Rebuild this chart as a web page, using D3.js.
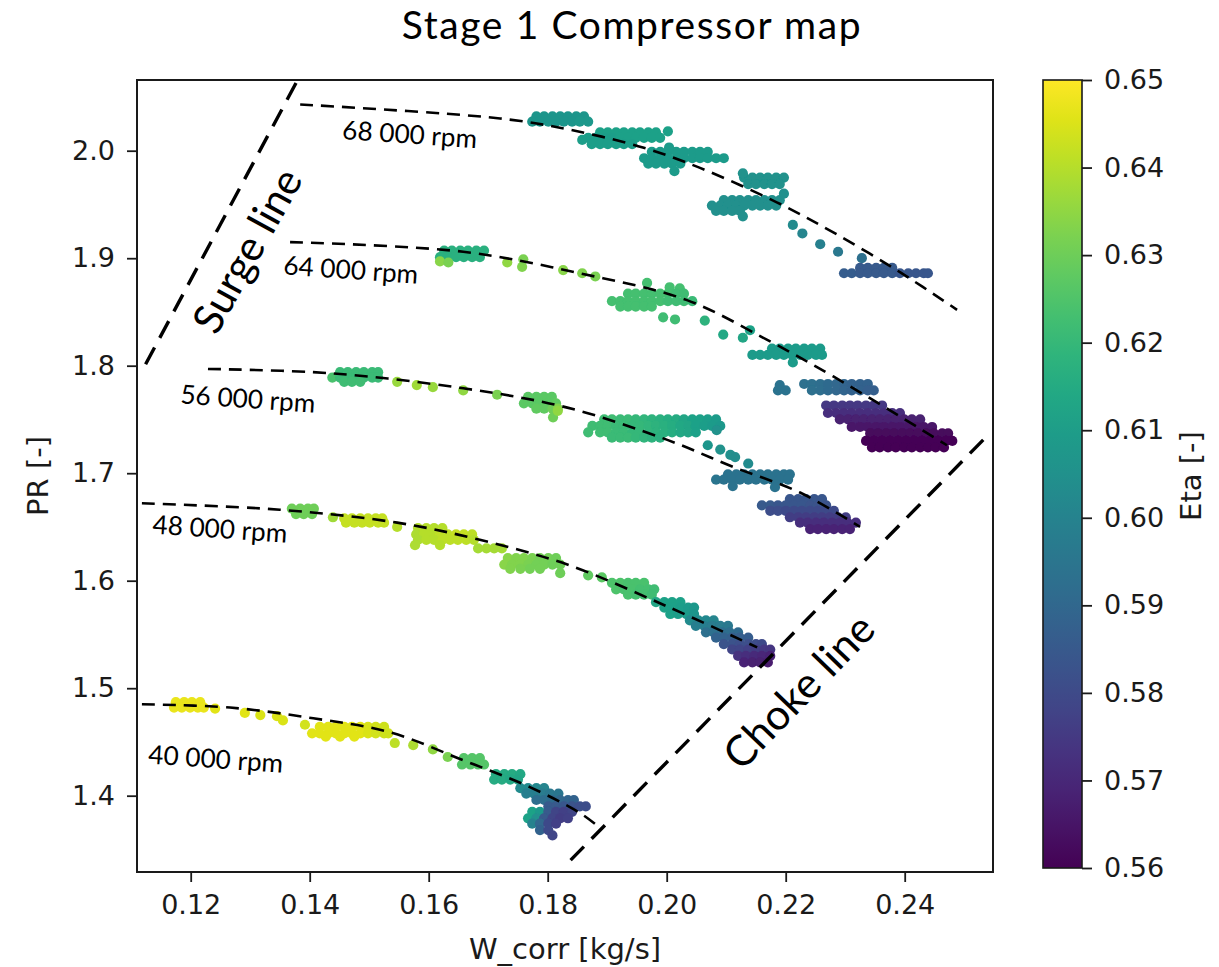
<!DOCTYPE html>
<html><head><meta charset="utf-8">
<script src="https://cdn.jsdelivr.net/npm/d3@7"></script>
<style>body{margin:0;background:#fff} svg{display:block}</style>
</head><body>
<svg id="chart" width="1219" height="967"></svg>
<script>
// ---------- data ----------
const title = "Stage 1 Compressor map";
const xLabel = "W_corr [kg/s]";
const yLabel = "PR [-]";
const cLabel = "Eta [-]";
const xTicks = [0.12,0.14,0.16,0.18,0.20,0.22,0.24];
const yTicks = [1.4,1.5,1.6,1.7,1.8,1.9,2.0];
const etaTicks = [0.56,0.57,0.58,0.59,0.60,0.61,0.62,0.63,0.64,0.65];

// [W_corr, PR, Eta]
const speed68 = [
[0.1781,2.032,.607],[0.1794,2.032,.607],[0.1808,2.032,.607],[0.1821,2.032,.607],[0.1834,2.032,.607],[0.1848,2.032,.607],[0.1861,2.032,.607],
[0.1774,2.027,.607],[0.1787,2.027,.607],[0.1801,2.027,.607],[0.1814,2.027,.607],[0.1827,2.027,.607],[0.1841,2.027,.607],[0.1854,2.027,.608],[0.1868,2.027,.608],
[0.1888,2.017,.611],[0.1901,2.017,.611],[0.1915,2.017,.611],[0.1928,2.017,.611],[0.1942,2.017,.611],[0.1955,2.017,.611],[0.1969,2.017,.611],[0.1982,2.017,.611],
[0.1868,2.012,.610],[0.1881,2.012,.610],[0.1895,2.012,.610],[0.1908,2.012,.610],[0.1922,2.012,.611],[0.1935,2.012,.611],[0.1948,2.012,.611],[0.1962,2.012,.611],[0.1975,2.012,.611],[0.1989,2.012,.611],
[0.1874,2.006,.610],[0.1888,2.006,.610],[0.1901,2.006,.610],[0.1915,2.006,.610],[0.1928,2.006,.610],[0.1942,2.006,.610],
[0.2002,2.018,.611],[0.1858,2.010,.610],
[0.1975,1.999,.609],[0.1989,1.999,.609],[0.2002,1.999,.609],[0.2016,1.999,.609],[0.2029,1.999,.609],[0.2043,1.999,.609],[0.2056,1.999,.609],[0.2069,1.999,.609],
[0.1962,1.993,.609],[0.1975,1.993,.609],[0.1989,1.993,.609],[0.2002,1.993,.609],[0.2016,1.993,.609],[0.2029,1.993,.609],[0.2043,1.993,.609],[0.2056,1.993,.609],[0.2069,1.993,.609],[0.2083,1.993,.609],[0.2096,1.993,.609],
[0.1969,1.988,.609],[0.1982,1.988,.609],[0.1996,1.988,.609],[0.2009,1.988,.609],[0.2023,1.988,.609],
[0.2004,2.003,.609],[0.2013,1.981,.609],
[0.2130,1.975,.606],[0.2144,1.975,.606],[0.2157,1.975,.606],[0.2170,1.975,.606],[0.2184,1.975,.606],[0.2197,1.975,.606],
[0.2137,1.969,.606],[0.2150,1.969,.606],[0.2164,1.969,.606],[0.2177,1.969,.606],[0.2190,1.969,.606],[0.2128,1.979,.606],
[0.2096,1.954,.605],[0.2110,1.954,.605],[0.2123,1.954,.605],[0.2137,1.954,.605],[0.2150,1.954,.605],[0.2164,1.954,.605],[0.2177,1.954,.605],[0.2190,1.954,.605],
[0.2076,1.949,.605],[0.2090,1.949,.605],[0.2103,1.949,.605],[0.2117,1.949,.605],[0.2130,1.949,.605],[0.2144,1.949,.605],[0.2157,1.949,.605],[0.2170,1.949,.605],[0.2184,1.949,.605],
[0.2083,1.944,.605],[0.2096,1.944,.605],[0.2110,1.944,.605],[0.2123,1.944,.605],[0.2128,1.939,.605],[0.2197,1.960,.605],
[0.2212,1.931,.603],[0.2228,1.923,.601],[0.2258,1.913,.599],[0.2288,1.906,.596],[0.2328,1.900,.593],
[0.2325,1.891,.585],[0.2338,1.891,.585],[0.2352,1.891,.585],[0.2365,1.891,.585],[0.2379,1.891,.585],
[0.2298,1.886,.586],[0.2311,1.886,.586],[0.2325,1.886,.585],[0.2338,1.886,.585],[0.2352,1.886,.585],[0.2365,1.886,.585],[0.2379,1.886,.585],[0.2392,1.886,.584],[0.2406,1.886,.584],[0.2419,1.886,.584],[0.2432,1.886,.584],[0.2439,1.886,.584]
];

const speed64 = [
[0.1626,1.907,.617],[0.1639,1.907,.617],[0.1653,1.907,.617],[0.1666,1.907,.617],[0.1680,1.907,.617],[0.1693,1.907,.617],
[0.1619,1.901,.617],[0.1633,1.901,.617],[0.1646,1.901,.617],[0.1659,1.901,.617],[0.1673,1.901,.617],[0.1686,1.901,.617],
[0.1619,1.897,.634],[0.1633,1.896,.632],
[0.1732,1.896,.635],[0.1757,1.892,.633],[0.1759,1.899,.632],[0.1826,1.889,.634],[0.1858,1.886,.633],[0.1880,1.883,.632],
[0.1967,1.877,.623],[0.2005,1.873,.623],[0.2022,1.872,.623],
[0.1935,1.867,.623],[0.1948,1.867,.623],[0.1962,1.867,.623],[0.1975,1.867,.623],[0.1989,1.867,.623],[0.2002,1.867,.623],[0.2016,1.867,.622],[0.2029,1.867,.622],
[0.1908,1.860,.623],[0.1922,1.860,.623],[0.1935,1.860,.623],[0.1948,1.860,.623],[0.1962,1.860,.623],[0.1975,1.860,.623],[0.1989,1.860,.623],[0.2002,1.860,.622],[0.2016,1.860,.622],[0.2029,1.860,.622],[0.2043,1.860,.621],
[0.1922,1.855,.623],[0.1935,1.855,.623],[0.1948,1.855,.623],[0.1962,1.855,.623],[0.1975,1.855,.623],
[0.1994,1.845,.622],[0.2014,1.843,.622],
[0.2064,1.842,.618],[0.2095,1.829,.614],[0.2128,1.826,.613],[0.2140,1.833,.612],
[0.2177,1.816,.609],[0.2190,1.816,.609],[0.2204,1.816,.609],[0.2217,1.816,.609],[0.2231,1.816,.609],[0.2244,1.816,.609],[0.2258,1.816,.609],
[0.2144,1.810,.609],[0.2157,1.810,.609],[0.2170,1.810,.609],[0.2184,1.810,.609],[0.2197,1.810,.609],[0.2211,1.810,.609],[0.2224,1.810,.609],[0.2237,1.810,.609],[0.2251,1.810,.609],[0.2261,1.810,.609],
[0.2212,1.803,.609],
[0.2190,1.782,.594],
[0.2231,1.783,.593],[0.2244,1.783,.593],[0.2258,1.783,.592],[0.2271,1.783,.591],[0.2285,1.783,.590],[0.2298,1.783,.589],[0.2311,1.783,.588],[0.2325,1.783,.588],[0.2338,1.783,.588],
[0.2187,1.777,.594],[0.2200,1.777,.594],[0.2244,1.777,.593],[0.2258,1.777,.592],[0.2271,1.777,.591],[0.2285,1.777,.590],[0.2298,1.777,.589],[0.2311,1.777,.588],[0.2325,1.777,.588],[0.2338,1.777,.587],[0.2348,1.777,.587],
[0.2268,1.763,.575],[0.2281,1.763,.575],[0.2295,1.763,.575],[0.2308,1.763,.575],[0.2321,1.763,.575],[0.2335,1.763,.575],[0.2348,1.763,.575],[0.2362,1.763,.575],
[0.2271,1.756,.572],[0.2285,1.756,.572],[0.2298,1.756,.572],[0.2311,1.756,.572],[0.2325,1.756,.572],[0.2338,1.756,.572],[0.2352,1.756,.572],[0.2365,1.756,.572],[0.2379,1.756,.572],[0.2392,1.756,.572],
[0.2291,1.750,.568],[0.2305,1.750,.568],[0.2318,1.750,.568],[0.2331,1.750,.568],[0.2345,1.750,.568],[0.2358,1.750,.568],[0.2372,1.750,.568],[0.2385,1.750,.568],[0.2399,1.750,.568],[0.2412,1.750,.568],[0.2426,1.750,.568],
[0.2311,1.743,.565],[0.2325,1.743,.565],[0.2338,1.743,.565],[0.2352,1.743,.565],[0.2365,1.743,.565],[0.2379,1.743,.565],[0.2392,1.743,.565],[0.2406,1.743,.565],[0.2419,1.743,.565],[0.2432,1.743,.565],[0.2446,1.743,.565],
[0.2342,1.737,.562],[0.2355,1.737,.562],[0.2369,1.737,.562],[0.2382,1.737,.562],[0.2396,1.737,.562],[0.2409,1.737,.562],[0.2422,1.737,.562],[0.2436,1.737,.562],[0.2449,1.737,.562],[0.2463,1.737,.562],[0.2473,1.737,.562],
[0.2335,1.730,.561],[0.2348,1.730,.561],[0.2362,1.730,.561],[0.2375,1.730,.561],[0.2389,1.730,.561],[0.2402,1.730,.561],[0.2416,1.730,.561],[0.2429,1.730,.561],[0.2442,1.730,.561],[0.2456,1.730,.561],[0.2469,1.730,.561],[0.2480,1.730,.561],
[0.2345,1.724,.560],[0.2358,1.724,.560],[0.2372,1.724,.560],[0.2385,1.724,.560],[0.2399,1.724,.560],[0.2412,1.724,.560],[0.2426,1.724,.560],[0.2439,1.724,.560],[0.2452,1.724,.560],[0.2466,1.724,.560]
];

const speed56 = [
[0.1451,1.794,.621],[0.1464,1.794,.621],[0.1478,1.794,.621],[0.1491,1.794,.621],[0.1505,1.794,.621],[0.1515,1.794,.621],
[0.1438,1.789,.624],[0.1451,1.789,.621],[0.1464,1.789,.621],[0.1478,1.789,.621],[0.1491,1.789,.621],[0.1505,1.789,.621],[0.1515,1.789,.621],
[0.1458,1.785,.622],[0.1471,1.785,.622],[0.1485,1.785,.622],
[0.1547,1.785,.636],[0.1580,1.782,.637],[0.1607,1.780,.636],[0.1658,1.777,.635],[0.1715,1.773,.632],
[0.1767,1.771,.627],[0.1781,1.771,.627],[0.1794,1.771,.627],[0.1807,1.771,.627],
[0.1760,1.765,.627],[0.1774,1.765,.627],[0.1787,1.765,.627],[0.1801,1.765,.627],[0.1814,1.765,.628],
[0.1781,1.760,.628],[0.1794,1.760,.628],[0.1808,1.760,.630],[0.1817,1.760,.633],
[0.1809,1.752,.630],[0.1817,1.758,.635],
[0.1895,1.750,.622],[0.1908,1.750,.622],[0.1922,1.750,.621],[0.1935,1.750,.621],[0.1948,1.750,.620],[0.1962,1.750,.619],[0.1975,1.750,.618],[0.1989,1.750,.617],[0.2002,1.750,.616],[0.2016,1.750,.615],[0.2029,1.750,.613],[0.2043,1.750,.612],[0.2056,1.750,.611],[0.2069,1.750,.610],[0.2083,1.750,.609],
[0.1875,1.744,.622],[0.1888,1.744,.622],[0.1901,1.744,.622],[0.1915,1.744,.621],[0.1928,1.744,.621],[0.1942,1.744,.620],[0.1955,1.744,.620],[0.1969,1.744,.619],[0.1982,1.744,.618],[0.1996,1.744,.617],[0.2009,1.744,.616],[0.2023,1.744,.614],[0.2036,1.744,.613],[0.2049,1.744,.611],[0.2063,1.744,.610],[0.2076,1.744,.609],[0.2090,1.744,.608],
[0.1888,1.738,.622],[0.1901,1.738,.622],[0.1915,1.738,.621],[0.1928,1.738,.621],[0.1942,1.738,.620],[0.1955,1.738,.620],[0.1969,1.738,.619],[0.1982,1.738,.618],[0.1996,1.738,.617],[0.2009,1.738,.616],[0.2023,1.738,.614],[0.2036,1.738,.613],[0.2049,1.738,.611],
[0.1908,1.733,.621],[0.1922,1.733,.621],[0.1935,1.733,.621],[0.1948,1.733,.620],[0.1962,1.733,.619],[0.1975,1.733,.618],[0.1989,1.733,.617],
[0.1868,1.738,.622],
[0.2069,1.726,.607],[0.2084,1.740,.606],[0.2090,1.722,.606],[0.2107,1.717,.605],[0.2115,1.715,.604],[0.2137,1.709,.603],
[0.2103,1.699,.594],[0.2117,1.699,.594],[0.2130,1.699,.594],[0.2144,1.699,.594],[0.2157,1.699,.594],[0.2170,1.699,.594],[0.2184,1.699,.594],[0.2197,1.699,.594],[0.2207,1.699,.594],
[0.2083,1.694,.595],[0.2096,1.694,.594],[0.2110,1.694,.594],[0.2123,1.694,.594],[0.2137,1.694,.594],[0.2150,1.694,.594],[0.2164,1.694,.594],[0.2177,1.694,.594],[0.2190,1.694,.594],[0.2204,1.694,.594],
[0.2111,1.688,.594],[0.2182,1.687,.594],
[0.2207,1.676,.584],[0.2221,1.676,.584],[0.2234,1.676,.584],[0.2248,1.676,.584],[0.2261,1.676,.584],
[0.2160,1.670,.585],[0.2174,1.670,.585],[0.2187,1.670,.584],[0.2200,1.670,.584],[0.2214,1.670,.584],[0.2227,1.670,.584],[0.2241,1.670,.583],[0.2254,1.670,.583],[0.2268,1.670,.583],
[0.2174,1.665,.581],[0.2187,1.665,.581],[0.2200,1.665,.580],[0.2214,1.665,.580],[0.2227,1.665,.580],[0.2241,1.665,.580],[0.2254,1.665,.580],[0.2268,1.665,.580],[0.2281,1.665,.580],
[0.2207,1.659,.576],[0.2221,1.659,.576],[0.2234,1.659,.576],[0.2248,1.659,.576],[0.2261,1.659,.576],[0.2274,1.659,.576],[0.2288,1.659,.576],[0.2301,1.659,.576],
[0.2224,1.654,.572],[0.2237,1.654,.572],[0.2251,1.654,.572],[0.2264,1.654,.572],[0.2278,1.654,.572],[0.2291,1.654,.572],[0.2304,1.654,.572],[0.2318,1.654,.572],
[0.2241,1.648,.569],[0.2254,1.648,.569],[0.2268,1.648,.569],[0.2281,1.648,.569],[0.2295,1.648,.569],[0.2308,1.648,.569]
];

const speed48 = [
[0.1370,1.667,.630],[0.1384,1.667,.630],[0.1397,1.667,.630],[0.1407,1.667,.630],
[0.1377,1.662,.630],[0.1390,1.662,.630],[0.1404,1.662,.630],
[0.1439,1.659,.637],
[0.1458,1.658,.642],[0.1471,1.658,.642],[0.1485,1.658,.642],[0.1498,1.658,.642],[0.1511,1.658,.642],[0.1522,1.658,.642],
[0.1461,1.654,.642],[0.1475,1.654,.642],[0.1488,1.654,.642],[0.1501,1.654,.642],[0.1515,1.654,.642],[0.1525,1.654,.642],
[0.1547,1.650,.640],
[0.1582,1.649,.640],[0.1596,1.649,.640],[0.1609,1.649,.640],[0.1623,1.649,.640],
[0.1579,1.643,.639],[0.1592,1.643,.640],[0.1606,1.643,.640],[0.1619,1.643,.641],[0.1632,1.643,.641],[0.1646,1.643,.642],[0.1659,1.643,.642],[0.1673,1.643,.641],
[0.1582,1.638,.639],[0.1596,1.638,.640],[0.1609,1.638,.640],[0.1623,1.638,.641],[0.1636,1.638,.641],[0.1649,1.638,.641],[0.1663,1.638,.641],[0.1676,1.638,.640],
[0.1577,1.633,.639],[0.1619,1.633,.640],
[0.1683,1.630,.638],[0.1697,1.630,.638],[0.1710,1.630,.638],[0.1723,1.630,.638],
[0.1733,1.621,.634],[0.1747,1.621,.633],[0.1760,1.621,.633],[0.1774,1.621,.632],[0.1787,1.621,.631],[0.1801,1.621,.631],[0.1814,1.621,.630],
[0.1727,1.615,.634],[0.1740,1.615,.633],[0.1754,1.615,.633],[0.1767,1.615,.632],[0.1781,1.615,.631],[0.1794,1.615,.631],[0.1808,1.615,.630],[0.1821,1.615,.630],
[0.1737,1.611,.633],[0.1754,1.611,.632],[0.1770,1.611,.631],[0.1787,1.611,.631],[0.1821,1.607,.630],
[0.1868,1.605,.628],[0.1891,1.603,.627],
[0.1908,1.598,.625],[0.1922,1.598,.625],[0.1935,1.598,.624],[0.1948,1.598,.624],[0.1962,1.598,.624],
[0.1915,1.592,.625],[0.1928,1.592,.624],[0.1942,1.592,.624],[0.1955,1.592,.623],[0.1969,1.592,.623],[0.1979,1.592,.622],
[0.1935,1.587,.624],[0.1948,1.587,.623],[0.1962,1.587,.623],[0.1975,1.587,.622],
[0.1982,1.580,.613],[0.1996,1.580,.612],[0.2009,1.580,.612],[0.2023,1.580,.611],
[0.1996,1.575,.612],[0.2009,1.575,.611],[0.2023,1.575,.610],[0.2036,1.575,.609],[0.2046,1.575,.608],
[0.2006,1.569,.611],[0.2019,1.569,.610],[0.2033,1.569,.609],[0.2046,1.569,.607],
[0.2039,1.563,.603],[0.2053,1.563,.603],[0.2066,1.563,.602],[0.2079,1.563,.601],
[0.2049,1.558,.598],[0.2063,1.558,.598],[0.2076,1.558,.597],[0.2090,1.558,.597],[0.2103,1.558,.596],
[0.2066,1.552,.593],[0.2079,1.552,.593],[0.2093,1.552,.592],[0.2106,1.552,.592],[0.2120,1.552,.591],
[0.2083,1.547,.588],[0.2096,1.547,.588],[0.2110,1.547,.587],[0.2123,1.547,.587],[0.2137,1.547,.586],
[0.2096,1.541,.583],[0.2110,1.541,.583],[0.2123,1.541,.582],[0.2137,1.541,.582],[0.2150,1.541,.581],[0.2160,1.541,.580],
[0.2110,1.536,.578],[0.2123,1.536,.578],[0.2137,1.536,.577],[0.2150,1.536,.576],[0.2164,1.536,.575],[0.2174,1.536,.574],
[0.2120,1.530,.573],[0.2133,1.530,.572],[0.2147,1.530,.571],[0.2160,1.530,.570],[0.2174,1.530,.569],
[0.2130,1.524,.569],[0.2144,1.524,.568],[0.2157,1.524,.568],[0.2170,1.524,.567]
];

const speed40 = [
[0.1175,1.487,.647],[0.1189,1.487,.647],[0.1202,1.487,.647],[0.1216,1.487,.647],
[0.1172,1.482,.647],[0.1185,1.482,.647],[0.1199,1.482,.647],[0.1212,1.482,.647],[0.1222,1.482,.647],
[0.1241,1.481,.646],[0.1291,1.477,.646],[0.1317,1.475,.645],[0.1345,1.474,.645],[0.1355,1.470,.645],[0.1392,1.466,.644],
[0.1417,1.464,.646],[0.1431,1.464,.646],[0.1444,1.464,.646],[0.1458,1.464,.646],[0.1471,1.464,.646],[0.1485,1.464,.646],[0.1498,1.464,.645],[0.1511,1.464,.644],[0.1525,1.464,.643],
[0.1404,1.458,.646],[0.1417,1.458,.646],[0.1431,1.458,.646],[0.1444,1.458,.646],[0.1458,1.458,.646],[0.1471,1.458,.646],[0.1485,1.458,.646],[0.1498,1.458,.645],[0.1511,1.458,.644],[0.1525,1.458,.643],[0.1532,1.458,.643],
[0.1427,1.455,.646],[0.1451,1.455,.646],[0.1475,1.455,.646],
[0.1543,1.449,.641],[0.1574,1.447,.639],[0.1607,1.443,.635],[0.1632,1.436,.632],
[0.1659,1.435,.626],[0.1673,1.435,.626],[0.1686,1.435,.626],
[0.1656,1.429,.626],[0.1670,1.429,.626],[0.1683,1.429,.626],[0.1693,1.429,.626],
[0.1713,1.420,.615],[0.1727,1.420,.615],[0.1740,1.420,.615],[0.1754,1.420,.614],
[0.1710,1.415,.615],[0.1723,1.415,.615],[0.1737,1.415,.614],[0.1750,1.415,.613],
[0.1754,1.407,.603],[0.1767,1.407,.603],[0.1781,1.407,.602],[0.1794,1.407,.601],
[0.1764,1.402,.598],[0.1777,1.402,.598],[0.1791,1.402,.597],[0.1804,1.402,.596],[0.1818,1.402,.595],
[0.1781,1.396,.592],[0.1794,1.396,.592],[0.1808,1.396,.591],[0.1821,1.396,.590],[0.1834,1.396,.589],[0.1844,1.396,.588],
[0.1801,1.390,.585],[0.1814,1.390,.585],[0.1827,1.390,.584],[0.1841,1.390,.583],[0.1854,1.390,.582],[0.1864,1.390,.581],
[0.1774,1.385,.612],[0.1787,1.385,.608],[0.1801,1.385,.585],[0.1814,1.385,.578],[0.1827,1.385,.577],[0.1841,1.385,.578],
[0.1767,1.379,.612],[0.1781,1.379,.605],[0.1794,1.379,.585],[0.1808,1.379,.578],[0.1821,1.379,.576],[0.1834,1.379,.577],
[0.1774,1.374,.600],[0.1787,1.374,.590],[0.1801,1.374,.580],[0.1814,1.374,.577],
[0.1787,1.368,.588],[0.1801,1.368,.580],[0.1808,1.363,.578]
];

// speed-line guides [W_corr, PR]
const line68 = [[0.1384,2.043],[0.1720,2.030],[0.1833,2.020],[0.1960,2.003],[0.2056,1.984],[0.2185,1.952],[0.2280,1.924],[0.2392,1.887],[0.2488,1.852]];
const line64 = [[0.1367,1.915],[0.1658,1.906],[0.1854,1.886],[0.2034,1.861],[0.2169,1.824],[0.2280,1.790],[0.2471,1.726]];
const line56 = [[0.1229,1.797],[0.1434,1.793],[0.1658,1.779],[0.1833,1.761],[0.2001,1.731],[0.2111,1.706],[0.2224,1.682],[0.2325,1.650]];
const line48 = [[0.1118,1.672],[0.1350,1.666],[0.1547,1.654],[0.1686,1.638],[0.1833,1.615],[0.2001,1.576],[0.2152,1.538]];
const line40 = [[0.1118,1.485],[0.1266,1.482],[0.1406,1.472],[0.1535,1.459],[0.1658,1.433],[0.1770,1.408],[0.1854,1.384],[0.1888,1.370]];
const surgeLine = [[0.1377,2.063],[0.1121,1.798]];
const chokeLine = [[0.2532,1.731],[0.1826,1.333]];

const rpmLabels = [
  {text:"68 000 rpm", w:0.1454, pr:2.011},
  {text:"64 000 rpm", w:0.1355, pr:1.885},
  {text:"56 000 rpm", w:0.1182, pr:1.765},
  {text:"48 000 rpm", w:0.1135, pr:1.644},
  {text:"40 000 rpm", w:0.1128, pr:1.430}
];
const lineLabels = [
  {text:"Surge line", w:0.1295, pr:1.907, angle:-61, width:180},
  {text:"Choke line", w:0.2222, pr:1.497, angle:-46, width:196}
];

// ---------- layout ----------
const svg = d3.select("#chart");
const L = 137, R = 993, T = 80, B = 872;
const x = d3.scaleLinear().domain([0.110975, 0.25484]).range([L, R]);
const y = d3.scaleLinear().domain([1.32902, 2.06577]).range([B, T]);
const cScale = d3.scaleLinear().domain([0.56, 0.65]).range([868, 80]);
const color = d3.scaleSequential(d3.interpolateViridis).domain([0.56, 0.65]);
const axisFont = "'DejaVu Sans', sans-serif";
const annFont = "Lato, 'Open Sans', sans-serif";
const ink = "#1a1a1a";

function fit(sel, target) {
  const len = sel.node().getComputedTextLength();
  const fs = parseFloat(sel.attr("font-size"));
  sel.attr("font-size", fs * target / len);
}

svg.append("rect").attr("width", 1219).attr("height", 967).attr("fill", "#fff");

// title: size chosen so its box stays inside the page, small spacing to reach the reference width
const tt = svg.append("text").attr("x", 632).attr("y", 39).attr("text-anchor", "middle")
  .attr("font-family", annFont).attr("font-size", 39).attr("fill", "#000").text(title);
{
  const len = tt.node().getComputedTextLength();
  tt.attr("letter-spacing", Math.max(0, Math.min(1.6, (480 - len) / title.length)));
}

// clip + soft edge filter
const defs = svg.append("defs");
defs.append("clipPath").attr("id", "plotclip").append("rect")
  .attr("x", L).attr("y", T).attr("width", R - L).attr("height", B - T);
defs.append("filter").attr("id", "soft").append("feGaussianBlur").attr("stdDeviation", 0.7);

// scatter
const allPts = [].concat(speed40, speed48, speed56, speed64, speed68);
svg.append("g").attr("clip-path", "url(#plotclip)").append("g").attr("filter", "url(#soft)")
  .selectAll("circle").data(allPts).join("circle")
  .attr("cx", d => x(d[0])).attr("cy", d => y(d[1])).attr("r", 5.1)
  .attr("fill", d => color(d[2]));

// speed lines
const lineGen = d3.line().x(d => x(d[0])).y(d => y(d[1])).curve(d3.curveCatmullRom.alpha(0.5));
const lg = svg.append("g").attr("fill", "none").attr("stroke", "#000");
[line68, line64, line56, line48, line40].forEach(l => {
  lg.append("path").attr("d", lineGen(l)).attr("stroke-width", 2.6).attr("stroke-dasharray", "13,8");
});
[surgeLine, chokeLine].forEach(l => {
  lg.append("path").attr("d", d3.line().x(d => x(d[0])).y(d => y(d[1]))(l))
    .attr("stroke-width", 3.4).attr("stroke-dasharray", "19,11");
});

// rpm labels
rpmLabels.forEach(d => {
  const t = svg.append("text")
    .attr("transform", `translate(${x(d.w)},${y(d.pr)}) rotate(4)`)
    .attr("font-family", annFont).attr("font-size", 24).attr("fill", "#000").text(d.text);
  fit(t, 135);
});
lineLabels.forEach(d => {
  const t = svg.append("text")
    .attr("transform", `translate(${x(d.w)},${y(d.pr)}) rotate(${d.angle})`)
    .attr("text-anchor", "middle").attr("dy", "0.35em")
    .attr("font-family", annFont).attr("font-size", 40).attr("fill", "#000").text(d.text);
  fit(t, d.width);
});

// axes
const xAxis = d3.axisBottom(x).tickValues(xTicks).tickFormat(d3.format(".2f")).tickSize(10).tickPadding(12);
const gx = svg.append("g").attr("transform", `translate(0,${B})`).call(xAxis);
const yAxis = d3.axisLeft(y).tickValues(yTicks).tickFormat(d3.format(".1f")).tickSize(10).tickPadding(12);
const gy = svg.append("g").attr("transform", `translate(${L},0)`).call(yAxis);
[gx, gy].forEach(g => {
  g.select(".domain").remove();
  g.selectAll("line").attr("stroke", ink).attr("stroke-width", 1.8);
  g.selectAll("text").attr("font-family", axisFont).attr("font-size", 27).attr("fill", ink);
});
gx.selectAll("text").attr("dy", "0.74em");

// frame
svg.append("rect").attr("x", L).attr("y", T).attr("width", R - L).attr("height", B - T)
  .attr("fill", "none").attr("stroke", ink).attr("stroke-width", 2);

// axis labels
svg.append("text").attr("x", (L + R) / 2).attr("y", 959).attr("text-anchor", "middle")
  .attr("font-family", axisFont).attr("font-size", 29).attr("fill", ink).text(xLabel);
svg.append("text").attr("transform", `translate(48,${(T + B) / 2}) rotate(-90)`).attr("text-anchor", "middle")
  .attr("font-family", axisFont).attr("font-size", 29).attr("fill", ink).text(yLabel);

// colorbar
const grad = defs.append("linearGradient").attr("id", "vir").attr("x1", 0).attr("y1", 1).attr("x2", 0).attr("y2", 0);
d3.range(0, 1.0001, 0.05).forEach(t => grad.append("stop").attr("offset", t).attr("stop-color", d3.interpolateViridis(t)));
const cbX = 1043, cbW = 39;
svg.append("rect").attr("x", cbX).attr("y", cScale(0.65)).attr("width", cbW).attr("height", cScale(0.56) - cScale(0.65))
  .attr("fill", "url(#vir)").attr("stroke", ink).attr("stroke-width", 1.6);
const cAxis = d3.axisRight(cScale).tickValues(etaTicks).tickFormat(d3.format(".2f")).tickSize(10).tickPadding(12);
const gc = svg.append("g").attr("transform", `translate(${cbX + cbW},0)`).call(cAxis);
gc.select(".domain").remove();
gc.selectAll("line").attr("stroke", ink).attr("stroke-width", 1.8);
gc.selectAll("text").attr("font-family", axisFont).attr("font-size", 27).attr("fill", ink);
svg.append("text").attr("transform", `translate(1201,${(T + B) / 2}) rotate(-90)`).attr("text-anchor", "middle")
  .attr("font-family", axisFont).attr("font-size", 29).attr("fill", ink).text(cLabel);
</script>
</body></html>
